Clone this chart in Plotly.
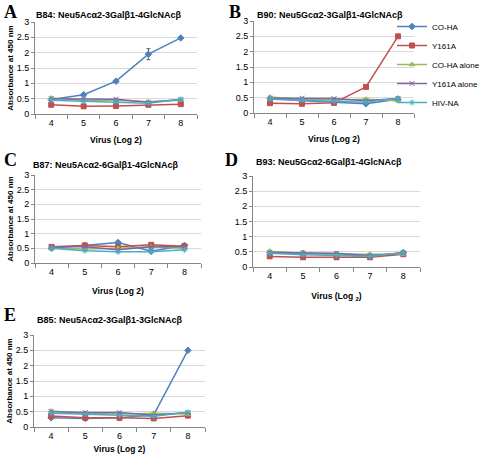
import plotly.graph_objects as go

x_vals = [4, 5, 6, 7, 8]
series_names = ["CO-HA", "Y161A", "CO-HA alone", "Y161A alone", "HIV-NA"]
colors = ["#4F81BD", "#C0504D", "#9BBB59", "#8064A2", "#4BACC6"]
symbols = ["diamond", "square", "triangle-up", "x-thin", "asterisk"]

# Panel A: B84
a_coha = [0.47, 0.63, 1.07, 1.95, 2.48]
a_y161a = [0.30, 0.25, 0.26, 0.30, 0.32]
a_coha_alone = [0.52, 0.45, 0.45, 0.40, 0.45]
a_y161a_alone = [0.50, 0.48, 0.48, 0.38, 0.47]
a_hivna = [0.45, 0.42, 0.40, 0.35, 0.48]
a_coha_err = [0.03, 0.03, 0.03, 0.18, 0.03]

# Panel B: B90
b_coha = [0.48, 0.40, 0.35, 0.30, 0.45]
b_y161a = [0.32, 0.30, 0.33, 0.85, 2.50]
b_coha_alone = [0.52, 0.45, 0.42, 0.45, 0.40]
b_y161a_alone = [0.48, 0.48, 0.47, 0.40, 0.47]
b_hivna = [0.45, 0.42, 0.38, 0.35, 0.48]

# Panel C: B87
c_coha = [0.50, 0.60, 0.70, 0.40, 0.60]
c_y161a = [0.55, 0.60, 0.55, 0.62, 0.57]
c_coha_alone = [0.50, 0.48, 0.50, 0.55, 0.50]
c_y161a_alone = [0.55, 0.55, 0.45, 0.55, 0.55]
c_hivna = [0.50, 0.42, 0.38, 0.38, 0.45]

# Panel D: B93
d_coha = [0.48, 0.45, 0.42, 0.35, 0.48]
d_y161a = [0.35, 0.32, 0.32, 0.32, 0.42]
d_coha_alone = [0.52, 0.45, 0.42, 0.42, 0.42]
d_y161a_alone = [0.48, 0.47, 0.45, 0.38, 0.45]
d_hivna = [0.45, 0.40, 0.38, 0.35, 0.48]

# Panel E: B85
e_coha = [0.30, 0.28, 0.30, 0.40, 2.50]
e_y161a = [0.36, 0.30, 0.30, 0.28, 0.37]
e_coha_alone = [0.52, 0.45, 0.42, 0.45, 0.42]
e_y161a_alone = [0.50, 0.47, 0.47, 0.38, 0.47]
e_hivna = [0.45, 0.42, 0.38, 0.35, 0.48]

panel_letters = ["A", "B", "C", "D", "E"]
panel_titles = [
    "B84: Neu5Acα2-3Galβ1-4GlcNAcβ",
    "B90: Neu5Gcα2-3Galβ1-4GlcNAcβ",
    "B87: Neu5Acα2-6Galβ1-4GlcNAcβ",
    "B93: Neu5Gcα2-6Galβ1-4GlcNAcβ",
    "B85: Neu5Acα2-3Galβ1-3GlcNAcβ",
]
x_titles = ["Virus (Log 2)", "Virus (Log 2)", "Virus (Log 2)", "Virus (Log <sub>2</sub>)", "Virus (Log 2)"]
y_ticks = [0, 0.5, 1, 1.5, 2, 2.5, 3]
y_ticktext = ["0", "0.5", "1", "1.5", "2", "2.5", "3"]

panels = [
    [a_coha, a_y161a, a_coha_alone, a_y161a_alone, a_hivna],
    [b_coha, b_y161a, b_coha_alone, b_y161a_alone, b_hivna],
    [c_coha, c_y161a, c_coha_alone, c_y161a_alone, c_hivna],
    [d_coha, d_y161a, d_coha_alone, d_y161a_alone, d_hivna],
    [e_coha, e_y161a, e_coha_alone, e_y161a_alone, e_hivna],
]

W, H = 480, 454
# plot areas in pixels: (left, right, top, bottom)
boxes = [
    (35, 197, 22, 114),
    (254, 414, 21, 113),
    (35, 201, 175, 263),
    (253, 420, 176, 267),
    (34, 205, 335, 427),
]
title_pos = [(109, 15), (330, 15), (106, 165), (329, 162), (110, 320)]
xtitle_standoff = [10, 10, 12, 13, 10]

FONT = "Liberation Sans, Arial, sans-serif"
fig = go.Figure()
layout = {}
annotations = []
for i, (data, box) in enumerate(zip(panels, boxes)):
    n = "" if i == 0 else str(i + 1)
    xa, ya = "x" + n, "y" + n
    for j, vals in enumerate(data):
        err = dict(type="constant", value=0.03, color="#7F7F7F", thickness=0.8, width=1.5)
        if i == 0 and j == 0:
            err = dict(type="data", array=a_coha_err, color="#606060", thickness=1, width=2)
        fig.add_trace(go.Scatter(
            x=x_vals, y=vals, xaxis=xa, yaxis=ya,
            mode="lines+markers", name=series_names[j],
            legendgroup=series_names[j], showlegend=(i == 0),
            line=dict(color=colors[j], width=1.5),
            marker=dict(symbol=symbols[j], size=5, color=colors[j],
                        line=dict(color=colors[j], width=1)),
            error_y=err,
        ))
    l, r, t, b = box
    layout["xaxis" + n] = dict(
        domain=[l / W, r / W], anchor=ya, range=[3.5, 8.5],
        tickvals=x_vals, ticks="", showgrid=False, automargin=False,
        showline=True, linecolor="#868686", linewidth=1,
        tickfont=dict(size=9, family=FONT, color="#000"),
        minor=dict(tickvals=[3.5, 4.5, 5.5, 6.5, 7.5, 8.5], ticks="outside", ticklen=4, tickcolor="#868686", showgrid=False),
        title=dict(text="<b>" + x_titles[i] + "</b>", font=dict(size=8.5, family=FONT, color="#000"),
                   standoff=xtitle_standoff[i]),
        zeroline=False, fixedrange=True,
    )
    ytitle = dict(text="<b>Absorbance at 450 nm</b>", font=dict(size=8, family=FONT, color="#000"), standoff=1) \
        if i in (0, 2, 4) else None
    layout["yaxis" + n] = dict(
        domain=[(H - b) / H, (H - t) / H], anchor=xa, range=[0, 3],
        tickvals=y_ticks, ticktext=y_ticktext, ticks="outside", ticklen=3, tickcolor="#868686",
        showgrid=True, gridcolor="#D9D9D9", gridwidth=1, automargin=False,
        showline=True, linecolor="#868686", linewidth=1,
        tickfont=dict(size=9, family=FONT, color="#000"),
        zeroline=False, fixedrange=True,
    )
    if ytitle:
        layout["yaxis" + n]["title"] = ytitle
    tx, ty = title_pos[i]
    annotations.append(dict(
        text="<b>" + panel_titles[i] + "</b>", xref="paper", yref="paper",
        x=tx / W, y=(H - ty) / H, xanchor="center", yanchor="middle",
        showarrow=False, font=dict(size=9, family=FONT, color="#000"),
    ))

letter_pos = [(2, 12), (227, 12), (2, 160), (223, 160), (2, 315)]
for letter, (px, py) in zip(panel_letters, letter_pos):
    annotations.append(dict(
        text="<b>" + letter + "</b>", xref="paper", yref="paper",
        x=px / W, y=(H - py) / H, xanchor="left", yanchor="middle",
        showarrow=False, font=dict(size=18, family="Liberation Serif, Times New Roman, serif", color="#000"),
    ))

fig.update_layout(
    width=W, height=H, margin=dict(l=0, r=0, t=0, b=0, autoexpand=False),
    paper_bgcolor="white", plot_bgcolor="white",
    showlegend=True,
    legend=dict(x=392 / W, y=(H - 12) / H, xanchor="left", yanchor="top",
                font=dict(size=8, family=FONT, color="#000"),
                itemwidth=30, tracegroupgap=0, bgcolor="rgba(0,0,0,0)"),
    annotations=annotations,
    **layout,
)
fig.write_html("out.html", config={"displayModeBar": False},
               post_script="document.body.style.margin='0';document.body.style.overflow='hidden';")
